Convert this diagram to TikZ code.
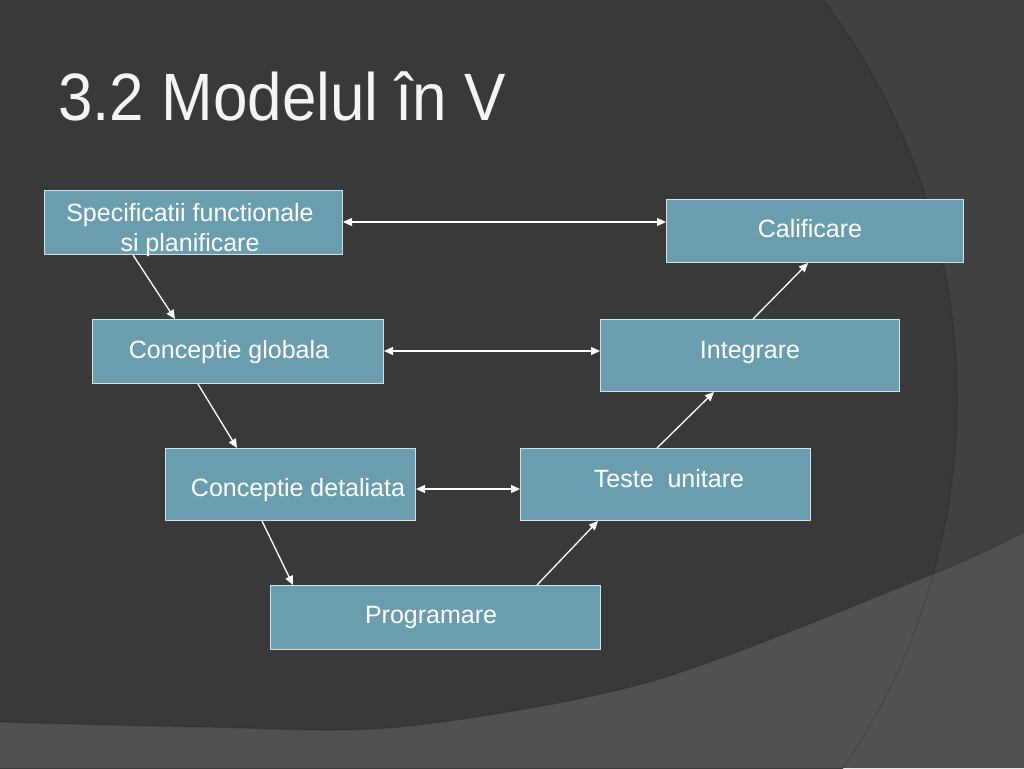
\documentclass[tikz,border=0pt]{standalone}
\usepackage{fontspec}
\setmainfont{Liberation Sans}
\usetikzlibrary{arrows.meta,calc}
\definecolor{bgmain}{HTML}{393939}
\definecolor{bgright}{HTML}{414141}
\definecolor{bgbottom}{HTML}{515151}
\definecolor{boxfill}{HTML}{6A9EAF}
\definecolor{boxline}{HTML}{D0E2E8}
\definecolor{txt}{HTML}{F4F4F4}
\tikzset{
  stagebox/.style={draw=boxline, line width=1pt, fill=boxfill, inner sep=0pt, anchor=north west, rectangle},
  boxtext/.style={font=\fontsize{25}{30}\selectfont, text=white, inner sep=0pt},
  link/.style={draw=white, line width=1.3pt, -{Triangle[length=9pt,width=8pt]}},
  dlink/.style={draw=white, line width=1.3pt, {Triangle[length=9pt,width=8pt]}-{Triangle[length=9pt,width=8pt]}}
}
\begin{document}
\begin{tikzpicture}[x=1pt,y=-1pt]
\useasboundingbox (0,0) rectangle (1024,768);
\begin{scope}
  \clip (0,0) rectangle (1024,768);
  \fill[bgright] (0,0) rectangle (1024,768);
  \fill[bgmain] (299,398) circle (658);
  \fill[bgbottom] plot[smooth] coordinates {(0,722) (200,727) (400,727) (653,681) (935,573) (1024,532)} -- (1024,768) -- (0,768) -- cycle;
  \draw[black, opacity=0.12, line width=1.5pt] (299,398) circle (658);
  \draw[black, opacity=0.12, line width=1.5pt] plot[smooth] coordinates {(0,722) (200,727) (400,727) (653,681) (935,573) (1024,532)};
\end{scope}

\node[anchor=base west, inner sep=0pt, text=txt, font=\fontsize{67}{80}\selectfont] (title) at (58,120) {\scalebox{0.925}[1]{3.2 Modelul în V}};

\node[stagebox, minimum width=298pt, minimum height=64pt] (spec) at (44,190) {};
\node[stagebox, minimum width=297pt, minimum height=63pt] (calif) at (666,199) {};
\node[stagebox, minimum width=291pt, minimum height=64pt] (glob) at (92,319) {};
\node[stagebox, minimum width=299pt, minimum height=72pt] (integ) at (600,319) {};
\node[stagebox, minimum width=250pt, minimum height=72pt] (det) at (165,448) {};
\node[stagebox, minimum width=290pt, minimum height=72pt] (teste) at (520,448) {};
\node[stagebox, minimum width=330pt, minimum height=64pt] (prog) at (270,585) {};

\node[boxtext, anchor=base, align=center] (specT) at (190,251) {Specificatii functionale\\si planificare};
\node[boxtext, anchor=base] (califT) at (810,237) {Calificare};
\node[boxtext, anchor=base] (globT) at (229,358) {Conceptie globala};
\node[boxtext, anchor=base] (integT) at (750,358) {Integrare};
\node[boxtext, anchor=base] (detT) at (298,496) {Conceptie detaliata};
\node[boxtext, anchor=base] (testeT) at (669,487) {Teste~~unitare};
\node[boxtext, anchor=base] (progT) at (431,623) {Programare};

\draw[dlink] ($(spec.north east)+(0,32)$) -- ($(calif.north west)+(0,23)$);
\draw[dlink] ($(glob.north east)+(0,32)$) -- ($(integ.north west)+(0,32)$);
\draw[dlink] ($(det.north east)+(0,41)$) -- ($(teste.north west)+(0,41)$);
\draw[link] ($(spec.south west)+(89,0)$) -- ($(glob.north west)+(83,0)$);
\draw[link] ($(glob.south west)+(106,0)$) -- ($(det.north west)+(72,0)$);
\draw[link] ($(det.south west)+(97,0)$) -- ($(prog.north west)+(23,0)$);
\draw[link] ($(prog.north west)+(267,0)$) -- ($(teste.south west)+(78,0)$);
\draw[link] ($(teste.north west)+(137,0)$) -- ($(integ.south west)+(114,0)$);
\draw[link] ($(integ.north west)+(153,0)$) -- ($(calif.south west)+(142,0)$);
\end{tikzpicture}
\end{document}
